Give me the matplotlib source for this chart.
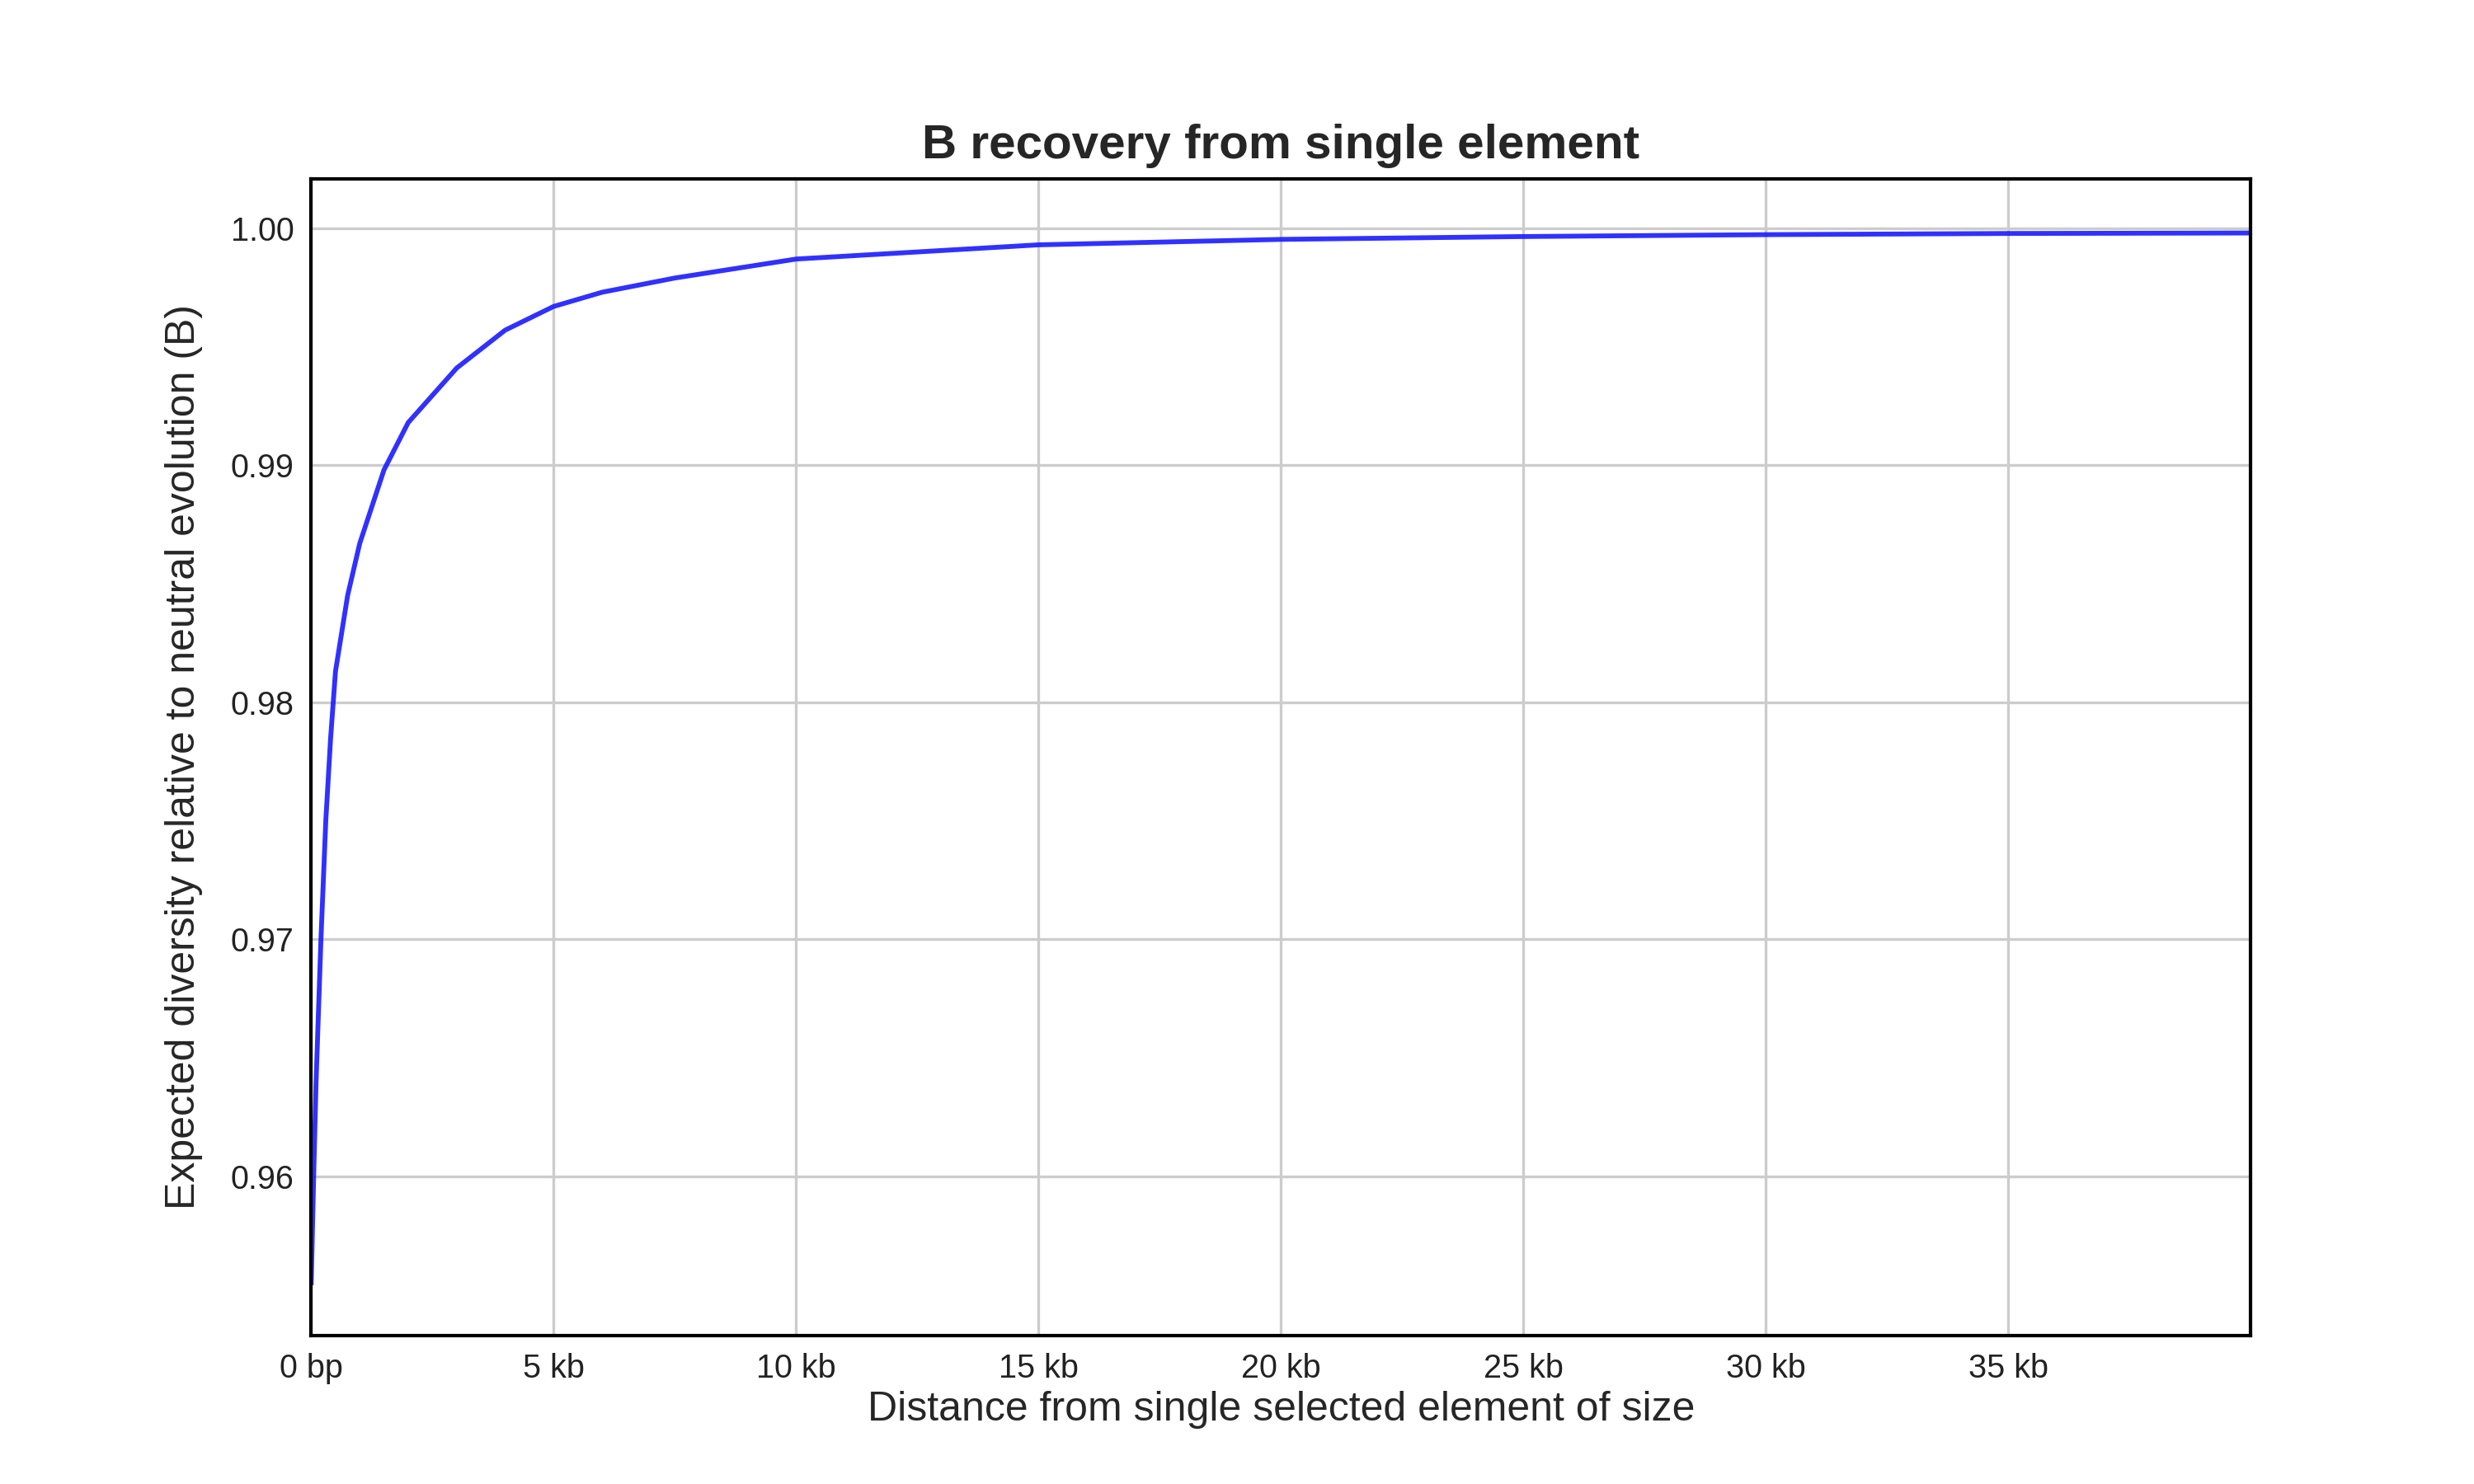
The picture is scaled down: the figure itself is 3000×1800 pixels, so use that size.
import matplotlib
matplotlib.use("Agg")
import matplotlib.pyplot as plt
from matplotlib.ticker import FuncFormatter

distance_bp = [0, 50, 100, 200, 300, 400, 500, 750, 1000, 1500, 2000, 3000, 4000, 5000,
               6000, 7500, 10000, 12500, 15000, 20000, 25000, 30000, 35000, 40000]
b_values = [0.9555, 0.960, 0.964, 0.970, 0.975, 0.9785, 0.9813, 0.9845, 0.9867, 0.9898,
            0.9918, 0.9941, 0.9957, 0.9967, 0.9973, 0.9979, 0.9987, 0.9990, 0.9993,
            0.99953, 0.99965, 0.99973, 0.99978, 0.9998]
x_ticks = [0, 5000, 10000, 15000, 20000, 25000, 30000, 35000]
y_ticks = [0.96, 0.97, 0.98, 0.99, 1.00]

plt.rcParams["font.family"] = "Liberation Sans"
fig = plt.figure(figsize=(10, 6), dpi=300)
ax = fig.add_axes([195/1550, 1-837/930, 1215/1550, 725/930])
ax.plot(distance_bp, b_values, color="#1a1aff", lw=1.4, alpha=0.9)
ax.set_xlim(0, 40000)
ax.set_ylim(0.95327, 1.00209)
ax.set_xticks(x_ticks)
ax.set_yticks(y_ticks)
ax.xaxis.set_major_formatter(FuncFormatter(lambda v, p: "0 bp" if v == 0 else f"{int(v/1000)} kb"))
ax.yaxis.set_major_formatter(FuncFormatter(lambda v, p: f"{v:.2f}"))
ax.grid(True, color="#cccccc", lw=0.8)
ax.set_axisbelow(True)
for s in ax.spines.values():
    s.set_color("black"); s.set_linewidth(1.0)
ax.tick_params(length=0, labelsize=9.5, colors="#222222", pad=5)
ax.set_title("B recovery from single element", fontsize=14, fontweight="bold", color="#262626", pad=6)
ax.set_xlabel("Distance from single selected element of size", fontsize=12, color="#262626", labelpad=2)
ax.set_ylabel("Expected diversity relative to neutral evolution (B)", fontsize=12, color="#262626", labelpad=8)
fig.savefig("out.png", dpi=300)
